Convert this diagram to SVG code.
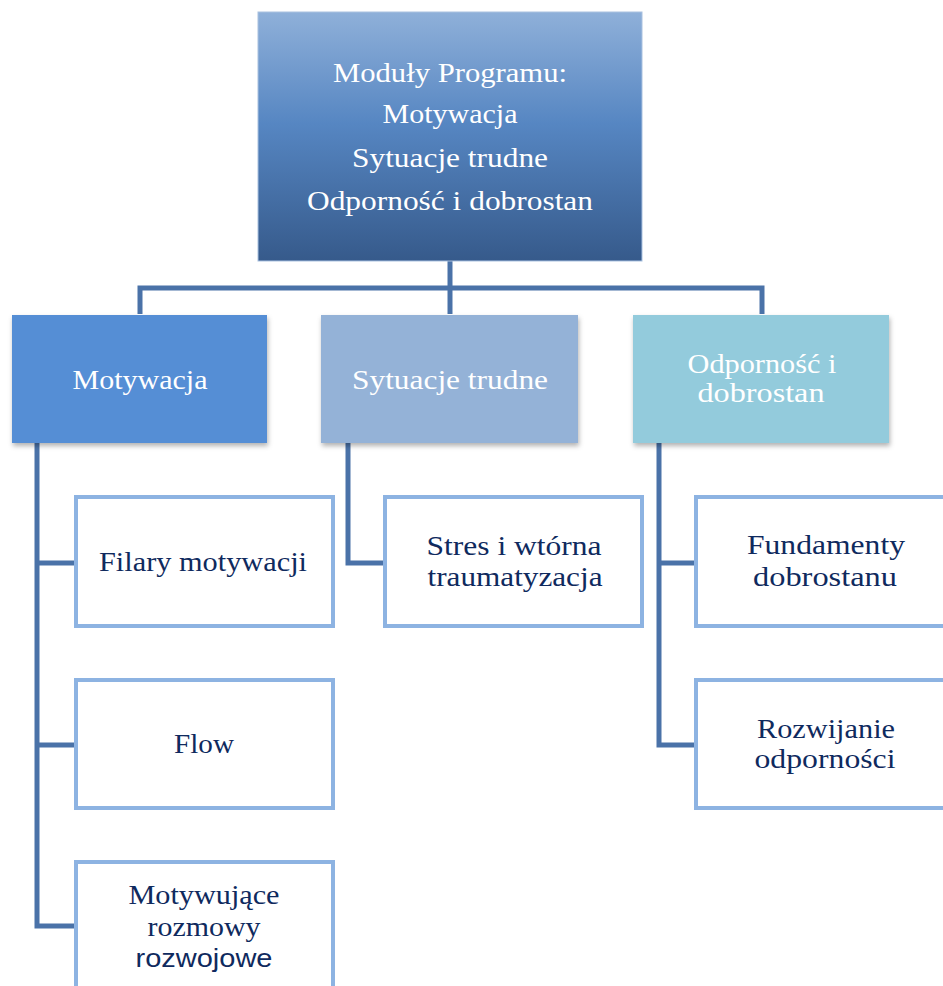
<svg xmlns="http://www.w3.org/2000/svg" width="943" height="986" viewBox="0 0 943 986">
<defs>
<linearGradient id="topGrad" x1="0" y1="0" x2="0" y2="1">
<stop offset="0" stop-color="#8fb0d9"/>
<stop offset="0.45" stop-color="#5686c2"/>
<stop offset="1" stop-color="#365a8b"/>
</linearGradient>
<filter id="shadow" x="-10%" y="-10%" width="125%" height="130%">
<feDropShadow dx="1" dy="3" stdDeviation="2.5" flood-color="#000" flood-opacity="0.3"/>
</filter>
</defs>
<style>
.conn{fill:none;stroke:#4a72a8;stroke-width:5;stroke-linejoin:miter}
.leaf{fill:#fff;stroke:#8db3e2;stroke-width:4}
.w{font-family:"Liberation Serif","DejaVu Serif",serif;font-size:27px;fill:#fff;text-anchor:middle}
.d{font-family:"Liberation Serif","DejaVu Serif",serif;font-size:27px;fill:#0f2a5e;text-anchor:middle}
.s{font-family:"Liberation Sans",Arial,sans-serif;font-size:25px;fill:#0f2a5e;text-anchor:middle}
</style>
<rect width="943" height="986" fill="#fff"/>
<g id="connectors">
<path class="conn" d="M450 261 V314"/>
<path class="conn" d="M140 314 V288 H762 V314"/>
<path class="conn" d="M37 443 V926 H76 M37 563 H76 M37 745 H76"/>
<path class="conn" d="M348 443 V563 H384"/>
<path class="conn" d="M659 443 V745 H695 M659 563 H695"/>
</g>
<g id="top">
<rect x="258" y="12" width="384" height="249" fill="url(#topGrad)" stroke="#a9c1e0" stroke-width="1"/>
<text class="w" x="450" y="82" textLength="234" lengthAdjust="spacingAndGlyphs">Moduły Programu:</text>
<text class="w" x="450" y="123" textLength="135" lengthAdjust="spacingAndGlyphs">Motywacja</text>
<text class="w" x="450" y="167" textLength="196" lengthAdjust="spacingAndGlyphs">Sytuacje trudne</text>
<text class="w" x="450" y="210" textLength="286" lengthAdjust="spacingAndGlyphs">Odporność i dobrostan</text>
</g>
<g id="motywacja">
<rect x="12" y="315" width="255" height="128" fill="#558ed5" filter="url(#shadow)"/>
<text class="w" x="140" y="389" textLength="135" lengthAdjust="spacingAndGlyphs">Motywacja</text>
</g>
<g id="sytuacje">
<rect x="321" y="315" width="257" height="128" fill="#94b2d7" filter="url(#shadow)"/>
<text class="w" x="450" y="389" textLength="196" lengthAdjust="spacingAndGlyphs">Sytuacje trudne</text>
</g>
<g id="odpornosc">
<rect x="633" y="315" width="256" height="128" fill="#93cbdc" filter="url(#shadow)"/>
<text class="w" x="762" y="373" textLength="149" lengthAdjust="spacingAndGlyphs">Odporność i</text>
<text class="w" x="761" y="402" textLength="127" lengthAdjust="spacingAndGlyphs">dobrostan</text>
</g>
<g id="filary">
<rect class="leaf" x="76" y="497" width="257" height="129"/>
<text class="d" x="203" y="571" textLength="208" lengthAdjust="spacingAndGlyphs">Filary motywacji</text>
</g>
<g id="flow">
<rect class="leaf" x="76" y="680" width="257" height="128"/>
<text class="d" x="204" y="753" textLength="60" lengthAdjust="spacingAndGlyphs">Flow</text>
</g>
<g id="motywujace">
<rect class="leaf" x="76" y="862" width="257" height="140"/>
<text class="d" x="204" y="904" textLength="151" lengthAdjust="spacingAndGlyphs">Motywujące</text>
<text class="d" x="204" y="936" textLength="113" lengthAdjust="spacingAndGlyphs">rozmowy</text>
<text class="s" x="204" y="967" textLength="137" lengthAdjust="spacingAndGlyphs">rozwojowe</text>
</g>
<g id="stres">
<rect class="leaf" x="385" y="497" width="257" height="129"/>
<text class="d" x="514" y="555" textLength="175" lengthAdjust="spacingAndGlyphs">Stres i wtórna</text>
<text class="d" x="515" y="586" textLength="175" lengthAdjust="spacingAndGlyphs">traumatyzacja</text>
</g>
<g id="fundamenty">
<rect class="leaf" x="696" y="497" width="257" height="129"/>
<text class="d" x="826" y="554" textLength="158" lengthAdjust="spacingAndGlyphs">Fundamenty</text>
<text class="d" x="825" y="586" textLength="144" lengthAdjust="spacingAndGlyphs">dobrostanu</text>
</g>
<g id="rozwijanie">
<rect class="leaf" x="696" y="680" width="257" height="128"/>
<text class="d" x="826" y="738" textLength="138" lengthAdjust="spacingAndGlyphs">Rozwijanie</text>
<text class="d" x="825" y="768" textLength="141" lengthAdjust="spacingAndGlyphs">odporności</text>
</g>
</svg>
